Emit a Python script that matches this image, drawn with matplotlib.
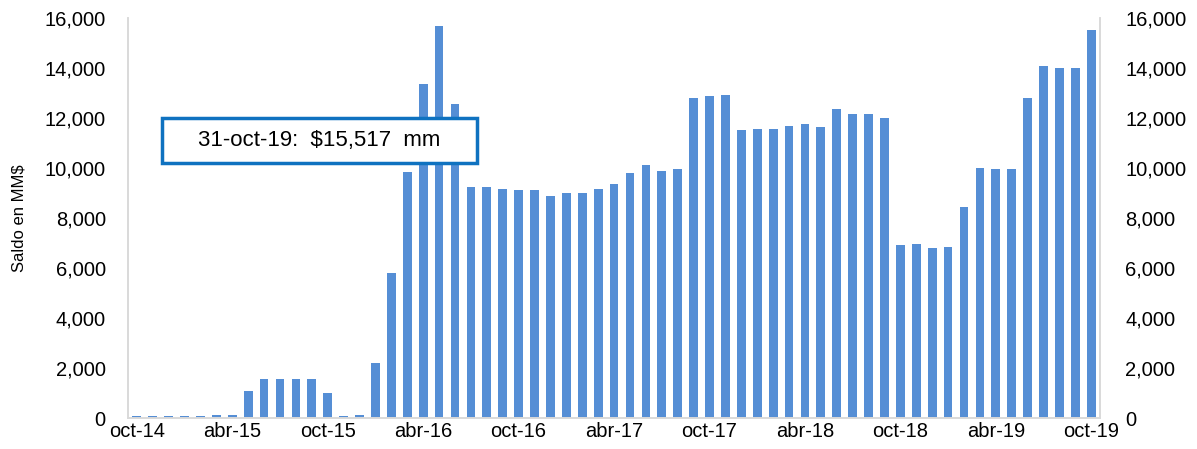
import matplotlib.pyplot as plt
from matplotlib.patches import Rectangle
from matplotlib.ticker import FuncFormatter
import numpy as np

plt.rcParams['font.family'] = ['Liberation Sans', 'DejaVu Sans']

# monthly balance, oct-14 .. oct-19 (MM$)
months = ['oct-14', 'nov-14', 'dic-14',
          'ene-15', 'feb-15', 'mar-15', 'abr-15', 'may-15', 'jun-15',
          'jul-15', 'ago-15', 'sep-15', 'oct-15', 'nov-15', 'dic-15',
          'ene-16', 'feb-16', 'mar-16', 'abr-16', 'may-16', 'jun-16',
          'jul-16', 'ago-16', 'sep-16', 'oct-16', 'nov-16', 'dic-16',
          'ene-17', 'feb-17', 'mar-17', 'abr-17', 'may-17', 'jun-17',
          'jul-17', 'ago-17', 'sep-17', 'oct-17', 'nov-17', 'dic-17',
          'ene-18', 'feb-18', 'mar-18', 'abr-18', 'may-18', 'jun-18',
          'jul-18', 'ago-18', 'sep-18', 'oct-18', 'nov-18', 'dic-18',
          'ene-19', 'feb-19', 'mar-19', 'abr-19', 'may-19', 'jun-19',
          'jul-19', 'ago-19', 'sep-19', 'oct-19']
saldo = [80, 80, 80,
         80, 80, 120, 120, 1100, 1550,
         1550, 1550, 1550, 1000, 80, 120,
         2200, 5800, 9850, 13350, 15680, 12570,
         9240, 9240, 9170, 9120, 9120, 8880,
         9000, 9000, 9170, 9360, 9790, 10130,
         9890, 9950, 12810, 12870, 12920, 11520,
         11560, 11560, 11680, 11750, 11630, 12350,
         12150, 12150, 11990, 6910, 6970, 6790,
         6850, 8450, 10010, 9950, 9950, 12810,
         14070, 14000, 14000, 15517]
yticks = [0, 2000, 4000, 6000, 8000, 10000, 12000, 14000, 16000]
note = '31-oct-19:  $15,517  mm'

fig = plt.figure(figsize=(11.97, 4.49), dpi=100)
ax = fig.add_axes([0.107, 0.069, 0.812, 0.891])

x = np.arange(len(saldo))
ax.bar(x, saldo, width=0.55, color='#558ED5', zorder=2)

ax.set_xlim(-0.55, 60.55)
ax.set_ylim(0, 16000)
ax.set_xticks(x[::6])
ax.set_xticklabels(months[::6])
ax.set_yticks(yticks)
fmt = FuncFormatter(lambda v, p: f'{int(v):,}')
ax.yaxis.set_major_formatter(fmt)
ax.tick_params(axis='both', length=0, labelsize=14.5, colors='black')
ax.tick_params(axis='x', pad=3)
ax.tick_params(axis='y', pad=16)
ax.set_ylabel('Saldo en MM$', fontsize=12)
ax.yaxis.set_label_coords(-0.104, 0.5)

# mirrored axis on the right
ax2 = ax.twinx()
ax2.set_ylim(ax.get_ylim())
ax2.set_yticks(yticks)
ax2.yaxis.set_major_formatter(fmt)
ax2.tick_params(axis='y', length=0, labelsize=14.5, pad=18)

for a in (ax, ax2):
    a.spines['top'].set_visible(False)
    for s in ('left', 'right', 'bottom'):
        a.spines[s].set_color('#D9D9D9')
        a.spines[s].set_linewidth(1.2)

# annotation box
box = Rectangle((0.035, 0.6375), 0.324, 0.1125, transform=ax.transAxes,
                facecolor='white', edgecolor='#0F72C0', linewidth=2.5, zorder=5)
ax.add_patch(box)
ax.text(0.197, 0.694, note, transform=ax.transAxes, ha='center', va='center',
        fontsize=16, zorder=6)

fig.savefig('out.png', dpi=100)
